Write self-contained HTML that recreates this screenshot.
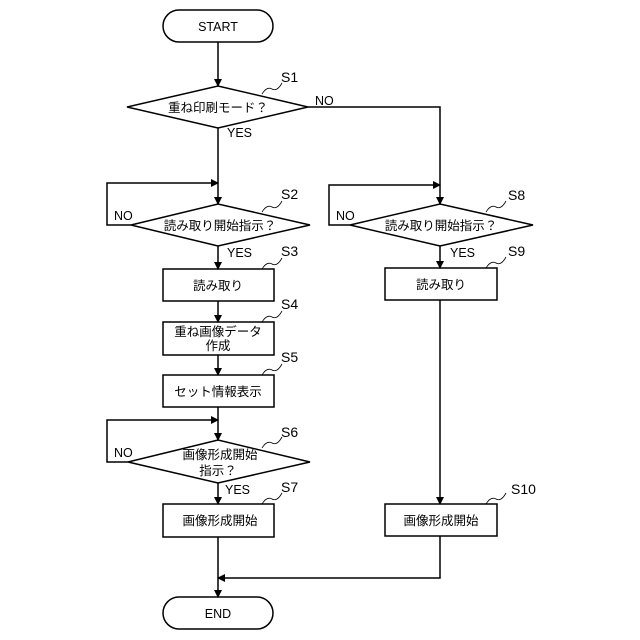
<!DOCTYPE html>
<html><head><meta charset="utf-8"><style>body{margin:0;background:#fff}svg{display:block}text{font-family:"Liberation Sans","Noto Sans CJK JP",sans-serif;font-size:12.5px;fill:#000}.s{font-size:14px}</style></head><body>
<svg width="640" height="640" viewBox="0 0 640 640" xmlns="http://www.w3.org/2000/svg">
<defs><marker id="a" markerWidth="8" markerHeight="8" refX="7" refY="4" orient="auto" markerUnits="userSpaceOnUse"><path d="M0,0 L8,4 L0,8 z" fill="#000"/></marker></defs>
<g stroke="#000" stroke-width="1.5" fill="none">
<rect x="163" y="10" width="110" height="32" rx="16"/>
<rect x="163" y="597" width="110" height="32" rx="16"/>
<polygon points="127,107 218,86 308,107 218,128"/>
<polygon points="131,225 218,204 310,225 218,246"/>
<polygon points="350,225 440,204 533,225 440,246"/>
<polygon points="128,462 218,440 310,462 218,483"/>
<rect x="163" y="269" width="111" height="32"/>
<rect x="385" y="268" width="112" height="32"/>
<rect x="163" y="322" width="111" height="33"/>
<rect x="163" y="375" width="111" height="32"/>
<rect x="163" y="504" width="111" height="33"/>
<rect x="385" y="504" width="112" height="32"/>
<line x1="218" y1="42" x2="218" y2="86" marker-end="url(#a)"/>
<line x1="218" y1="128" x2="218" y2="204" marker-end="url(#a)"/>
<polyline points="131,225 107,225 107,183 218,183" marker-end="url(#a)"/>
<polyline points="308,107 440,107 440,204" marker-end="url(#a)"/>
<polyline points="350,225 329,225 329,185 440,185" marker-end="url(#a)"/>
<line x1="218" y1="246" x2="218" y2="269" marker-end="url(#a)"/>
<line x1="440" y1="246" x2="440" y2="268" marker-end="url(#a)"/>
<line x1="218" y1="301" x2="218" y2="322" marker-end="url(#a)"/>
<line x1="218" y1="355" x2="218" y2="375" marker-end="url(#a)"/>
<line x1="218" y1="407" x2="218" y2="440" marker-end="url(#a)"/>
<polyline points="128,462 107,462 107,420 218,420" marker-end="url(#a)"/>
<line x1="218" y1="483" x2="218" y2="504" marker-end="url(#a)"/>
<line x1="440" y1="300" x2="440" y2="504" marker-end="url(#a)"/>
<line x1="218" y1="537" x2="218" y2="597" marker-end="url(#a)"/>
<polyline points="440,536 440,578 218,578" marker-end="url(#a)"/>
<g stroke-width="0.8">
<path d="M262,94 q5,-8 10,-5 t10,-6"/>
<path d="M262,212 q5,-8 10,-5 t10,-6"/>
<path d="M262,269 q5,-8 10,-5 t10,-6"/>
<path d="M262,322 q5,-8 10,-5 t10,-6"/>
<path d="M262,375 q5,-8 10,-5 t10,-6"/>
<path d="M262,448 q5,-8 10,-5 t10,-6"/>
<path d="M262,504 q5,-8 10,-5 t10,-6"/>
<path d="M486,212 q5,-8 10,-5 t10,-6"/>
<path d="M486,268 q5,-8 10,-5 t10,-6"/>
<path d="M486,504 q5,-8 10,-5 t10,-6"/>
</g></g>
<g text-anchor="middle">
<text x="218" y="31">START</text><text x="218" y="618">END</text>
<text x="218" y="112">重ね印刷モード？</text>
<text x="220" y="230">読み取り開始指示？</text>
<text x="441" y="230">読み取り開始指示？</text>
<text x="220" y="459">画像形成開始</text><text x="218" y="475">指示？</text>
<text x="218" y="290">読み取り</text><text x="441" y="289">読み取り</text>
<text x="218" y="336">重ね画像データ</text><text x="218" y="350">作成</text>
<text x="218" y="396">セット情報表示</text>
<text x="220" y="525">画像形成開始</text><text x="441" y="525">画像形成開始</text>
</g>
<text class="s" x="281" y="82">S1</text><text class="s" x="281" y="199">S2</text><text class="s" x="281" y="256">S3</text><text class="s" x="281" y="309">S4</text><text class="s" x="281" y="362">S5</text><text class="s" x="281" y="437">S6</text><text class="s" x="281" y="492">S7</text><text class="s" x="508" y="200">S8</text><text class="s" x="508" y="256">S9</text><text class="s" x="511" y="494">S10</text>
<text x="227" y="137">YES</text><text x="227" y="257">YES</text><text x="450" y="257">YES</text><text x="225" y="494">YES</text>
<text x="315" y="105">NO</text><text x="114" y="220">NO</text><text x="336" y="220">NO</text><text x="114" y="457">NO</text>
</svg></body></html>
